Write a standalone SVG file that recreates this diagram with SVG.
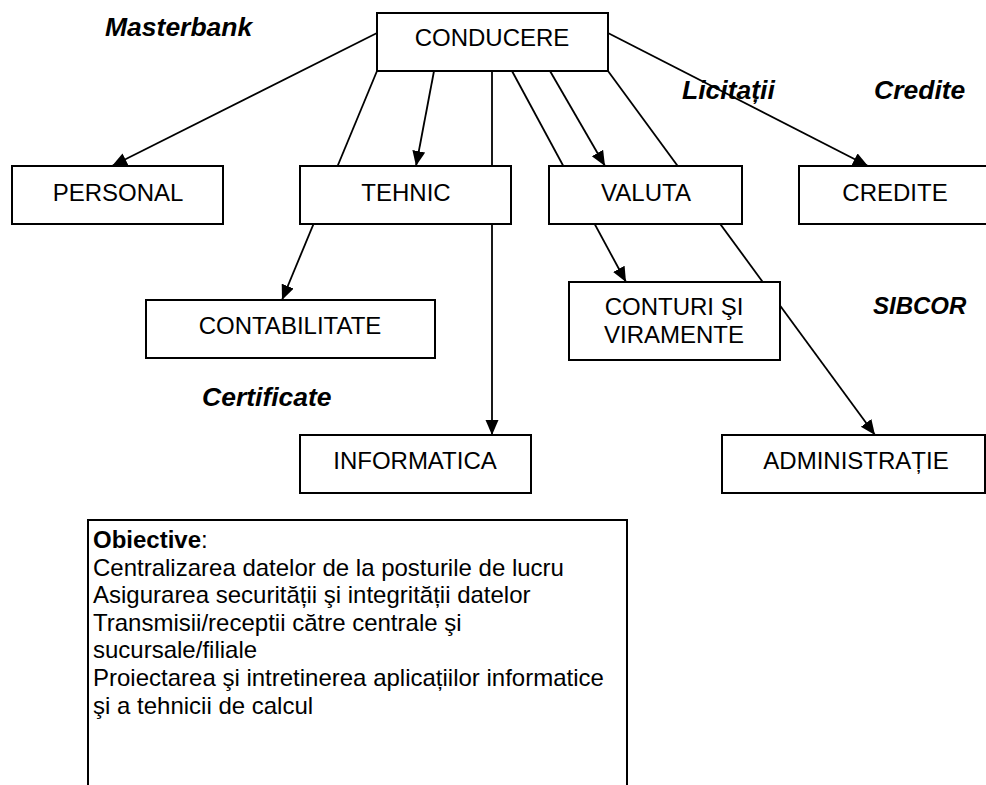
<svg xmlns="http://www.w3.org/2000/svg" width="986" height="785" viewBox="0 0 986 785">
<style>
.box{fill:#fff;stroke:#000;stroke-width:2}
.lbl{font-family:"Liberation Sans",Arial,sans-serif;font-size:24px;fill:#000;text-anchor:middle}
.tag{font-family:"Liberation Sans",Arial,sans-serif;font-size:26.5px;font-weight:bold;font-style:italic;fill:#000}
.obj{font-family:"Liberation Sans",Arial,sans-serif;font-size:24px;fill:#000}
.con{fill:none;stroke:#000;stroke-width:1.8}
</style>
<defs>
<marker id="ah" markerUnits="userSpaceOnUse" markerWidth="16" markerHeight="14" refX="15" refY="6.5" orient="auto">
<path d="M0,0 L15,6.5 L0,13 z" fill="#000"/>
</marker>
</defs>
<rect width="986" height="785" fill="#fff"/>
<g id="connectors">
<line class="con" x1="377" y1="33" x2="112" y2="166" marker-end="url(#ah)"/>
<line class="con" x1="377" y1="71" x2="282" y2="300" marker-end="url(#ah)"/>
<line class="con" x1="434" y1="71" x2="416" y2="166" marker-end="url(#ah)"/>
<line class="con" x1="492" y1="71" x2="492" y2="435" marker-end="url(#ah)"/>
<line class="con" x1="512" y1="71" x2="626" y2="282" marker-end="url(#ah)"/>
<line class="con" x1="550" y1="71" x2="605" y2="166" marker-end="url(#ah)"/>
<line class="con" x1="608" y1="71" x2="875" y2="435" marker-end="url(#ah)"/>
<line class="con" x1="608" y1="33" x2="868" y2="166" marker-end="url(#ah)"/>
</g>
<g id="conducere"><rect class="box" x="377" y="13" width="231" height="58"/><text class="lbl" x="492" y="46">CONDUCERE</text></g>
<g id="personal"><rect class="box" x="12" y="166" width="211" height="58"/><text class="lbl" x="118" y="200.5">PERSONAL</text></g>
<g id="tehnic"><rect class="box" x="300" y="166" width="211" height="58"/><text class="lbl" x="406" y="200.5">TEHNIC</text></g>
<g id="valuta"><rect class="box" x="549" y="166" width="193" height="58"/><text class="lbl" x="646" y="200.5">VALUTA</text></g>
<g id="credite"><rect class="box" x="799" y="166" width="192" height="58"/><text class="lbl" x="895" y="200.5">CREDITE</text></g>
<g id="contabilitate"><rect class="box" x="146" y="300" width="289" height="58"/><text class="lbl" x="290" y="333.5">CONTABILITATE</text></g>
<g id="conturi"><rect class="box" x="569" y="282" width="211" height="78"/><text class="lbl" x="674" y="315">CONTURI ŞI</text><text class="lbl" x="674" y="343">VIRAMENTE</text></g>
<g id="informatica"><rect class="box" x="300" y="435" width="231" height="58"/><text class="lbl" x="415" y="468.5">INFORMATICA</text></g>
<g id="administratie"><rect class="box" x="722" y="435" width="263" height="58"/><text class="lbl" x="856" y="468.5">ADMINISTRAȚIE</text></g>
<g id="labels">
<text class="tag" x="105" y="36">Masterbank</text>
<text class="tag" x="682" y="99">Licitații</text>
<text class="tag" x="874" y="99">Credite</text>
<text class="tag" x="873" y="313.5" style="font-size:24px">SIBCOR</text>
<text class="tag" x="202" y="406">Certificate</text>
</g>
<g id="obiective">
<rect class="box" x="88" y="520" width="539" height="300"/>
<text class="obj" x="93" y="548"><tspan font-weight="bold">Obiective</tspan>:</text>
<text class="obj" x="93" y="575.6">Centralizarea datelor de la posturile de lucru</text>
<text class="obj" x="93" y="603.2">Asigurarea securității şi integrității datelor</text>
<text class="obj" x="93" y="630.8">Transmisii/receptii către centrale şi</text>
<text class="obj" x="93" y="658.4">sucursale/filiale</text>
<text class="obj" x="93" y="686">Proiectarea şi intretinerea aplicațiilor informatice</text>
<text class="obj" x="93" y="713.6">şi a tehnicii de calcul</text>
</g>
</svg>
